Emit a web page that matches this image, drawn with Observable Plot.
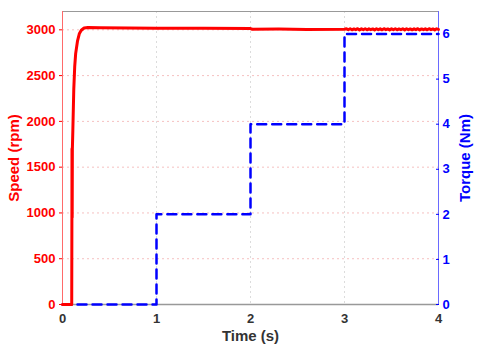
<!DOCTYPE html>
<html><head><meta charset="utf-8">
<script src="https://cdn.jsdelivr.net/npm/d3@7"></script>
<script src="https://cdn.jsdelivr.net/npm/@observablehq/plot@0.6"></script>
<style>
body{margin:0;background:#fff}
svg{font-family:"Liberation Sans",Arial,sans-serif}
</style>
</head><body><div id="chart"></div>
<script>
const speedTime = [0, 0.098, 0.100, 0.101, 0.103, 0.105, 0.11, 0.12, 0.13, 0.14, 0.16, 0.18, 0.20, 0.23, 0.27, 0.4, 1.0, 1.5, 2.0, 2.02, 2.3, 2.6, 3.0,
  3.02, 3.04, 3.06, 3.08, 3.10, 3.12, 3.14, 3.16, 3.18, 3.20, 3.22, 3.24, 3.26, 3.28, 3.30, 3.32, 3.34, 3.36, 3.38, 3.40,
  3.42, 3.44, 3.46, 3.48, 3.50, 3.52, 3.54, 3.56, 3.58, 3.60, 3.62, 3.64, 3.66, 3.68, 3.70, 3.72, 3.74, 3.76, 3.78, 3.80,
  3.82, 3.84, 3.86, 3.88, 3.90, 3.92, 3.94, 3.96, 3.98, 4.0];
const speedRpm = [0, 0, 950, 1700, 950, 1700, 1900, 2350, 2600, 2740, 2880, 2960, 2995, 3020, 3025, 3022, 3018, 3016, 3014, 3006, 3008, 3004, 3006,
  3011, 3001, 3012, 3000, 3010, 3002, 3012, 2999, 3011, 3001, 3012, 3000, 3011, 3002, 3010, 2999, 3012, 3001, 3011, 3000,
  3012, 3002, 3010, 2999, 3011, 3001, 3012, 3000, 3010, 3002, 3011, 2999, 3012, 3001, 3010, 3000, 3011, 3002, 3012, 2999,
  3010, 3001, 3011, 3000, 3012, 3002, 3010, 2999, 3011, 3004];
const torqueTime = [0, 1, 2, 3, 4];
const torqueNm = [0, 2, 4, 6, 6];
const speedTicks = [0, 500, 1000, 1500, 2000, 2500, 3000];
const torqueTicks = [0, 1, 2, 3, 4, 5, 6];
const timeTicks = [0, 1, 2, 3, 4];
const SPEED_MAX = 3200, TORQUE_MAX = 6.5, T_MAX = 4;
const k = SPEED_MAX / TORQUE_MAX;

const speed = speedTime.map((t, i) => ({t, v: speedRpm[i]}));
const torque = torqueTime.map((t, i) => ({t, v: torqueNm[i] * k}));

const RED = "#ff0000", BLUE = "#0000ff";

const chart = Plot.plot({
  width: 480, height: 352,
  marginLeft: 62, marginRight: 42, marginTop: 11, marginBottom: 48,
  x: {domain: [0, T_MAX]},
  y: {domain: [0, SPEED_MAX]},
  marks: [
    Plot.gridY(speedTicks.slice(1), {stroke: "#f5c0c0", strokeOpacity: 1, strokeDasharray: "2,3"}),
    Plot.gridX(timeTicks.slice(1, -1), {stroke: "#dcdcdc", strokeOpacity: 1, strokeDasharray: "2,3"}),
    Plot.ruleY([SPEED_MAX], {stroke: "#999", strokeWidth: 1}),
    Plot.ruleY([0], {stroke: "#999", strokeWidth: 1.5}),
    Plot.ruleX([0], {stroke: "#ff6a6a", strokeWidth: 1}),
    Plot.ruleX([T_MAX], {stroke: "#6a6aff", strokeWidth: 1}),
    Plot.line(torque, {x: "t", y: "v", curve: "step-after", stroke: BLUE, strokeWidth: 2.5, strokeDasharray: "9,6"}),
    Plot.line(speed, {x: "t", y: "v", stroke: RED, strokeWidth: 3}),
    Plot.axisY(speedTicks, {anchor: "left", color: RED, fontWeight: "bold", fontSize: 13, tickSize: 3, tickPadding: 4, tickFormat: d => String(d), label: null}),
    Plot.axisY(torqueTicks.map(v => v * k), {anchor: "right", color: BLUE, fontWeight: "bold", fontSize: 13, tickSize: -3, tickPadding: 7,
      tickFormat: d => String(Math.round(d / k)), label: null}),
    Plot.axisX(timeTicks, {anchor: "bottom", color: "#333", fontWeight: "bold", fontSize: 13, tickSize: 0, tickPadding: 9, label: null}),
    Plot.text(["Speed (rpm)"], {frameAnchor: "left", dx: -48, rotate: -90, fill: RED, fontWeight: "bold", fontSize: 15, textAnchor: "middle"}),
    Plot.text(["Torque (Nm)"], {frameAnchor: "right", dx: 27, rotate: -90, fill: BLUE, fontWeight: "bold", fontSize: 15, textAnchor: "middle"}),
    Plot.text(["Time (s)"], {frameAnchor: "bottom", dy: 36, fill: "#333", fontWeight: "bold", fontSize: 15, textAnchor: "middle"})
  ]
});
document.getElementById("chart").appendChild(chart);
</script>
</body></html>
